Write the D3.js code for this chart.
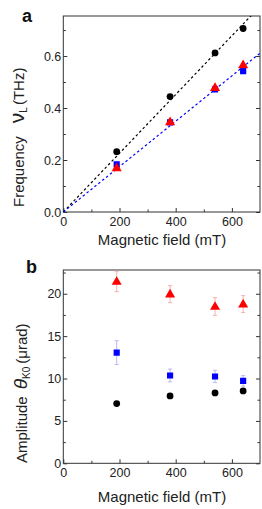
<!DOCTYPE html>
<html>
<head>
<meta charset="utf-8">
<script src="https://cdn.jsdelivr.net/npm/d3@7"></script>
<style>
  body { margin: 0; background: #fff; }
  svg { font-family: "Liberation Sans", Arial, sans-serif; }
  .axis text { font-size: 12.5px; fill: #222; }
  .axis line { stroke: #333; }
  .axis path { display: none; }
</style>
</head>
<body>
<div class="canvas"></div>
<script>
// magnetic field values (mT), shared by both panels
const fields = [190, 380, 540, 640];

// panel a: frequency (THz)
const freqBlack = [0.232, 0.444, 0.612, 0.706];
const freqBlue = [0.183, 0.345, 0.472, 0.542];
const freqRed = [0.170, 0.347, 0.479, 0.566];
// slopes of the dashed linear fits (THz per mT), black then blue
const fitSlopes = [0.00113, 0.000873];

// panel b: amplitude (µrad) with error bars
const ampBlack = [7.04, 7.95, 8.30, 8.54];
const ampBlue = [13.06, 10.36, 10.24, 9.72];
const ampRed = [21.45, 19.95, 18.50, 18.78];
const errBlue = [1.40, 0.75, 0.72, 0.62];
const errRed = [1.20, 1.00, 1.05, 1.00];

const xTicks = [0, 200, 400, 600];
const xMinor = [100, 300, 500];
const yTicksA = [0, 0.2, 0.4, 0.6];
const yMinorA = [0.1, 0.3, 0.5, 0.7];
const yTicksB = [0, 5, 10, 15, 20];
const yMinorB = [2.5, 7.5, 12.5, 17.5, 22.5];

const width = 262, height = 509;
const svg = d3.select('.canvas')
    .append('svg')
    .attr('width', width)
    .attr('height', height);

const left = 63.3, right = 260;

const x = d3.scaleLinear().domain([0, 700]).range([left, right]);

const panel = (top, bottom, yDomain, yTicks, yMinor, yFormat, id) => {
    const y = d3.scaleLinear().domain(yDomain).range([bottom, top]);

    svg.append('clipPath').attr('id', id)
        .append('rect')
        .attr('x', left).attr('y', top)
        .attr('width', right - left).attr('height', bottom - top);

    const g = svg.append('g');

    g.append('g').attr('class', 'axis')
        .attr('transform', `translate(0,${bottom})`)
        .call(d3.axisBottom(x).tickValues(xTicks).tickFormat(d3.format('d'))
            .tickSizeInner(-4).tickSizeOuter(0).tickPadding(5));
    g.append('g').attr('class', 'axis')
        .attr('transform', `translate(0,${bottom})`)
        .call(d3.axisBottom(x).tickValues(xMinor).tickFormat('')
            .tickSizeInner(-2.5).tickSizeOuter(0));

    g.append('g').attr('class', 'axis')
        .attr('transform', `translate(${left},0)`)
        .call(d3.axisLeft(y).tickValues(yTicks).tickFormat(yFormat)
            .tickSizeInner(-4).tickSizeOuter(0).tickPadding(2));
    g.append('g').attr('class', 'axis')
        .attr('transform', `translate(${left},0)`)
        .call(d3.axisLeft(y).tickValues(yMinor).tickFormat('')
            .tickSizeInner(-2.5).tickSizeOuter(0));

    // mirrored ticks on the right edge
    g.append('g').attr('class', 'axis')
        .attr('transform', `translate(${right},0)`)
        .call(d3.axisRight(y).tickValues(yTicks).tickFormat('')
            .tickSizeInner(-4).tickSizeOuter(0));
    g.append('g').attr('class', 'axis')
        .attr('transform', `translate(${right},0)`)
        .call(d3.axisRight(y).tickValues(yMinor).tickFormat('')
            .tickSizeInner(-2.5).tickSizeOuter(0));

    g.append('rect')
        .attr('x', left).attr('y', top)
        .attr('width', right - left).attr('height', bottom - top)
        .attr('fill', 'none').attr('stroke', '#333').attr('stroke-width', 1);

    const plot = svg.append('g').attr('clip-path', `url(#${id})`);
    return { y, plot };
};

const drawCircles = (plot, y, vals) => {
    plot.selectAll(null).data(vals).enter()
        .append('circle')
        .attr('cx', (d, i) => x(fields[i]))
        .attr('cy', d => y(d))
        .attr('r', 3.4)
        .attr('fill', '#000');
};
const drawSquares = (plot, y, vals) => {
    plot.selectAll(null).data(vals).enter()
        .append('path')
        .attr('d', d3.symbol(d3.symbolSquare, 38))
        .attr('transform', (d, i) => `translate(${x(fields[i])},${y(d)})`)
        .attr('fill', '#0000ff');
};
const drawTriangles = (plot, y, vals) => {
    plot.selectAll(null).data(vals).enter()
        .append('path')
        .attr('d', d3.symbol(d3.symbolTriangle, 44))
        .attr('transform', (d, i) => `translate(${x(fields[i])},${y(d) + 0.5})`)
        .attr('fill', '#ff0000');
};
const drawErrors = (plot, y, vals, errs, colour) => {
    const eg = plot.append('g').attr('stroke', colour).attr('stroke-width', 1);
    vals.forEach((v, i) => {
        const cx = x(fields[i]);
        eg.append('line').attr('x1', cx).attr('x2', cx)
            .attr('y1', y(v - errs[i])).attr('y2', y(v + errs[i]));
        [v - errs[i], v + errs[i]].forEach(e => {
            eg.append('line').attr('x1', cx - 2).attr('x2', cx + 2)
                .attr('y1', y(e)).attr('y2', y(e));
        });
    });
};

// ---- panel a ----
const a = panel(16, 212, [0, 0.754], yTicksA, yMinorA, d3.format('.1f'), 'clipA');

const fitColours = ['#000', '#0000ff'];
fitSlopes.forEach((s, i) => {
    a.plot.append('path')
        .datum([0, 700])
        .attr('d', d3.line().x(d => x(d)).y(d => a.y(d * s)))
        .attr('fill', 'none')
        .attr('stroke', fitColours[i])
        .attr('stroke-width', 1.2)
        .attr('stroke-dasharray', '2.5,2.5');
});
drawCircles(a.plot, a.y, freqBlack);
drawSquares(a.plot, a.y, freqBlue);
drawTriangles(a.plot, a.y, freqRed);

// ---- panel b ----
const b = panel(270, 463.3, [0, 22.8], yTicksB, yMinorB, d3.format('d'), 'clipB');
drawErrors(b.plot, b.y, ampBlue, errBlue, '#b8b8f4');
drawErrors(b.plot, b.y, ampRed, errRed, '#f6b0b0');
drawCircles(b.plot, b.y, ampBlack);
drawSquares(b.plot, b.y, ampBlue);
drawTriangles(b.plot, b.y, ampRed);

// ---- labels ----
const txt = (xp, yp, s, size, weight) => svg.append('text')
    .attr('x', xp).attr('y', yp)
    .attr('font-size', size).attr('font-weight', weight || 'normal')
    .attr('fill', '#111').text(s);

txt(22, 22, 'a', 18, 'bold');
txt(26, 273, 'b', 18, 'bold');

txt(162, 244.5, 'Magnetic field (mT)', 15).attr('text-anchor', 'middle').attr('fill', '#222');
txt(162, 502, 'Magnetic field (mT)', 15).attr('text-anchor', 'middle').attr('fill', '#222');

const ylabA = svg.append('text')
    .attr('transform', 'translate(23.5,207) rotate(-90)')
    .attr('font-size', 15).attr('fill', '#222');
ylabA.append('tspan').text('Frequency');
ylabA.append('tspan').attr('dx', 13).attr('font-size', 21).text('ν');
ylabA.append('tspan').attr('font-size', 10).attr('dy', 3).text('L');
ylabA.append('tspan').attr('dy', -3).attr('dx', 2).text('(THz)');

const ylabB = svg.append('text')
    .attr('transform', 'translate(27,463) rotate(-90)')
    .attr('font-size', 15).attr('fill', '#222');
ylabB.append('tspan').text('Amplitude');
ylabB.append('tspan').attr('dx', 7).attr('font-size', 19).attr('font-style', 'italic').text('θ');
ylabB.append('tspan').attr('font-size', 10).attr('dy', 3).text('K0');
ylabB.append('tspan').attr('dy', -3).attr('dx', 3).text('(μrad)');
</script>
</body>
</html>
